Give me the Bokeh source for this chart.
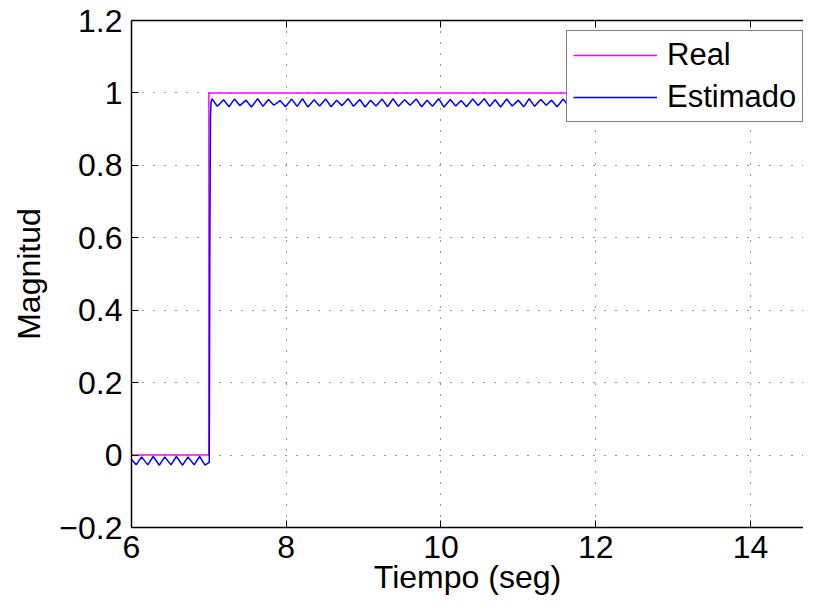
from bokeh.plotting import figure
from bokeh.models import FixedTicker, LinearAxis, Legend, LegendItem, Range1d
from bokeh.embed import file_html
from bokeh.resources import INLINE

# ---- data ----
x_ticks = [6, 8, 10, 12, 14]
x_tick_labels = ["6", "8", "10", "12", "14"]
y_ticks = [-0.2, 0.0, 0.2, 0.4, 0.6, 0.8, 1.0, 1.2]
y_tick_labels = ["\u22120.2", "0", "0.2", "0.4", "0.6", "0.8", "1", "1.2"]

real_t = [6.0, 7.0, 7.0, 14.9]
real_y = [0.0, 0.0, 1.0, 1.0]

pre_t = [6.00, 6.06, 6.13, 6.21, 6.28, 6.36, 6.43, 6.51, 6.58, 6.66, 6.73, 6.81, 6.88, 6.95, 7.005]
pre_y = [-0.012, -0.027, -0.005, -0.027, -0.004, -0.028, -0.005, -0.027, -0.004, -0.028, -0.005, -0.027, -0.004, -0.028, -0.020]

rise_t = [7.012, 7.02, 7.028]
rise_y = [0.55, 0.93, 0.975]

crest_t = [7.04, 7.19, 7.33, 7.48, 7.63, 7.77, 7.92, 8.07, 8.21, 8.36, 8.51, 8.65, 8.80, 8.95,
           9.09, 9.24, 9.38, 9.53, 9.68, 9.82, 9.97, 10.12, 10.26, 10.41, 10.56, 10.70, 10.85,
           11.00, 11.14, 11.29, 11.43, 11.58, 11.73, 11.87, 12.02, 12.17, 12.31, 12.46, 12.61,
           12.75, 12.90, 13.05, 13.19, 13.34, 13.49, 13.63, 13.78, 13.92, 14.07, 14.22, 14.36,
           14.51, 14.66, 14.80]
crest_y = [0.984, 0.981, 0.983, 0.980, 0.984, 0.982, 0.979, 0.983, 0.984, 0.981, 0.983, 0.980,
           0.984, 0.982, 0.980, 0.983, 0.984, 0.981, 0.983, 0.980, 0.984, 0.982, 0.979, 0.983,
           0.984, 0.981, 0.983, 0.980, 0.984, 0.982, 0.980, 0.983, 0.984, 0.981, 0.983, 0.980,
           0.984, 0.982, 0.979, 0.983, 0.984, 0.981, 0.983, 0.980, 0.984, 0.982, 0.980, 0.983,
           0.984, 0.981, 0.983, 0.980, 0.984, 0.982]
trough_t = [7.11, 7.26, 7.40, 7.55, 7.70, 7.84, 7.99, 8.14, 8.28, 8.43, 8.58, 8.72, 8.87, 9.02,
            9.16, 9.31, 9.45, 9.60, 9.75, 9.89, 10.04, 10.19, 10.33, 10.48, 10.63, 10.77, 10.92,
            11.07, 11.21, 11.36, 11.50, 11.65, 11.80, 11.94, 12.09, 12.24, 12.38, 12.53, 12.68,
            12.82, 12.97, 13.12, 13.26, 13.41, 13.56, 13.70, 13.85, 13.99, 14.14, 14.29, 14.43,
            14.58, 14.73, 14.87]
trough_y = [0.963, 0.962, 0.965, 0.961, 0.963, 0.966, 0.962, 0.963, 0.961, 0.964, 0.962, 0.965,
            0.963, 0.961, 0.964, 0.962, 0.963, 0.966, 0.962, 0.963, 0.961, 0.964, 0.962, 0.965,
            0.963, 0.961, 0.964, 0.962, 0.963, 0.966, 0.962, 0.963, 0.961, 0.964, 0.962, 0.965,
            0.963, 0.961, 0.964, 0.962, 0.963, 0.966, 0.962, 0.963, 0.961, 0.964, 0.962, 0.965,
            0.963, 0.961, 0.964, 0.962, 0.963, 0.966]

post = sorted(zip(crest_t + trough_t, crest_y + trough_y))
est_t = pre_t + rise_t + [a for a, _ in post]
est_y = pre_y + rise_y + [b for _, b in post]

FONT = "Liberation Sans"

p = figure(width=803, height=597, x_range=Range1d(6, 14.685), y_range=Range1d(-0.2, 1.2),
           output_backend="svg", toolbar_location=None,
           min_border_left=131, min_border_right=0, min_border_top=20, min_border_bottom=70)
p.outline_line_color = None
p.background_fill_color = "white"
p.border_fill_color = "white"

xa = p.xaxis[0]
ya = p.yaxis[0]
xa.ticker = FixedTicker(ticks=x_ticks)
ya.ticker = FixedTicker(ticks=y_ticks)
xa.major_label_overrides = dict(zip(x_ticks, x_tick_labels))
ya.major_label_overrides = dict(zip(y_ticks, y_tick_labels))
xa.axis_label = "Tiempo (seg)"
ya.axis_label = "Magnitud"
for ax in (xa, ya):
    ax.major_tick_in = 7
    ax.major_tick_out = 0
    ax.minor_tick_line_color = None
    ax.axis_line_width = 1.5
    ax.axis_line_color = "black"
    ax.major_tick_line_color = "black"
    ax.major_label_text_font = FONT
    ax.major_label_text_font_size = "32px"
    ax.major_label_text_color = "black"
    ax.axis_label_text_font = FONT
    ax.axis_label_text_font_size = "32px"
    ax.axis_label_text_font_style = "normal"
    ax.axis_label_text_color = "black"
xa.major_label_standoff = 8
xa.axis_label_standoff = -2
ya.major_label_standoff = 9
ya.axis_label_standoff = 9

top = LinearAxis(ticker=FixedTicker(ticks=x_ticks), major_tick_in=7, major_tick_out=0,
                 minor_tick_line_color=None, axis_line_width=1.5, axis_line_color="black",
                 major_label_overrides={t: "" for t in x_ticks}, major_label_standoff=0)
p.add_layout(top, "above")

for g, t in ((p.xgrid[0], x_ticks), (p.ygrid[0], y_ticks)):
    g.ticker = FixedTicker(ticks=t)
    g.grid_line_color = "black"
    g.grid_line_width = 1
    g.grid_line_dash = "1 10"
    g.grid_line_alpha = 0.8

r1 = p.line(real_t, real_y, line_color="#FF00FF", line_width=1.5)
r2 = p.line(est_t, est_y, line_color="#0000FF", line_width=1.5)

legend = Legend(items=[LegendItem(label="Real", renderers=[r1]),
                       LegendItem(label="Estimado", renderers=[r2])],
                location=(435, 405), label_text_font=FONT, label_text_font_size="31px",
                label_text_color="black", glyph_width=84, glyph_height=30, label_height=30,
                label_standoff=10, padding=6, spacing=6, margin=0,
                border_line_color="black", border_line_width=1.2,
                background_fill_color="white", background_fill_alpha=1.0)
p.add_layout(legend, "center")

open("out.html", "w").write(file_html(p, INLINE))
